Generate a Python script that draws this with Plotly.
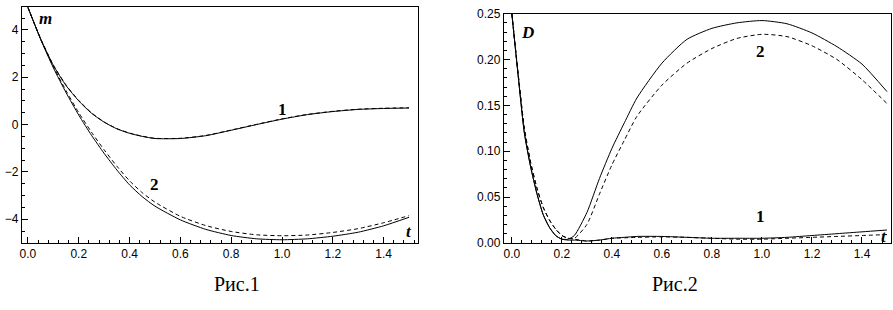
import plotly.graph_objects as go

# ---------------- data: Рис.1 (m vs t) ----------------
t_m = [0, 0.05, 0.1, 0.15, 0.2, 0.25, 0.3, 0.35, 0.4, 0.45, 0.5, 0.6, 0.7,
       0.8, 0.9, 1.0, 1.1, 1.2, 1.3, 1.4, 1.5]
m1_solid = [4.95, 3.62, 2.5, 1.65, 1.0, 0.48, 0.1, -0.18, -0.37, -0.5, -0.59,
            -0.59, -0.47, -0.24, 0.0, 0.23, 0.42, 0.55, 0.64, 0.68, 0.7]
m1_dash = [4.95, 3.63, 2.52, 1.67, 1.02, 0.5, 0.11, -0.17, -0.36, -0.49, -0.58,
           -0.58, -0.46, -0.23, 0.01, 0.24, 0.43, 0.56, 0.65, 0.69, 0.71]
m2_solid = [4.95, 3.6, 2.4, 1.35, 0.4, -0.45, -1.22, -1.92, -2.55, -3.05, -3.45,
            -4.03, -4.43, -4.69, -4.83, -4.87, -4.83, -4.72, -4.55, -4.28, -3.92]
m2_dash = [4.95, 3.61, 2.45, 1.43, 0.5, -0.32, -1.07, -1.76, -2.38, -2.88, -3.28,
           -3.88, -4.27, -4.52, -4.66, -4.7, -4.67, -4.56, -4.4, -4.15, -3.85]

# ---------------- data: Рис.2 (D vs t) ----------------
t_d = [0, 0.025, 0.05, 0.075, 0.1, 0.125, 0.15, 0.175, 0.2, 0.225, 0.25, 0.3,
       0.35, 0.4, 0.45, 0.5, 0.6, 0.7, 0.8, 0.9, 1.0, 1.1, 1.2, 1.3, 1.4, 1.5]
d2_solid = [0.25, 0.183, 0.12, 0.083, 0.054, 0.031, 0.017, 0.008, 0.004, 0.004,
            0.008, 0.033, 0.07, 0.103, 0.131, 0.158, 0.196, 0.222, 0.234, 0.240,
            0.2425, 0.239, 0.229, 0.214, 0.195, 0.165]
d2_dash = [0.25, 0.185, 0.125, 0.088, 0.06, 0.039, 0.025, 0.015, 0.008, 0.005,
           0.005, 0.02, 0.053, 0.085, 0.112, 0.138, 0.172, 0.196, 0.212, 0.223,
           0.2275, 0.225, 0.215, 0.2, 0.178, 0.152]
d1_solid = [0.25, 0.183, 0.12, 0.083, 0.054, 0.031, 0.017, 0.008, 0.004, 0.003,
            0.003, 0.002, 0.003, 0.005, 0.006, 0.007, 0.007, 0.006, 0.005, 0.005,
            0.005, 0.006, 0.008, 0.010, 0.012, 0.014]
d1_dash = [0.25, 0.185, 0.125, 0.088, 0.06, 0.039, 0.025, 0.015, 0.008, 0.005,
           0.004, 0.002, 0.003, 0.005, 0.0055, 0.006, 0.0065, 0.006, 0.005, 0.004,
           0.004, 0.005, 0.006, 0.007, 0.008, 0.009]

x_ticks = [0.0, 0.2, 0.4, 0.6, 0.8, 1.0, 1.2, 1.4]
m_ticks = [-4, -2, 0, 2, 4]
d_ticks = [0.0, 0.05, 0.10, 0.15, 0.20, 0.25]

W, H = 893, 310
fig = go.Figure()

line_solid = dict(color="black", width=1, shape="spline", smoothing=0.6)
line_dash = dict(color="black", width=1, dash="4px,3px", shape="spline", smoothing=0.6)

fig.add_trace(go.Scatter(x=t_m, y=m1_solid, mode="lines", line=line_solid, xaxis="x", yaxis="y"))
fig.add_trace(go.Scatter(x=t_m, y=m1_dash, mode="lines", line=line_dash, xaxis="x", yaxis="y"))
fig.add_trace(go.Scatter(x=t_m, y=m2_solid, mode="lines", line=line_solid, xaxis="x", yaxis="y"))
fig.add_trace(go.Scatter(x=t_m, y=m2_dash, mode="lines", line=line_dash, xaxis="x", yaxis="y"))

fig.add_trace(go.Scatter(x=t_d, y=d1_solid, mode="lines", line=line_solid, xaxis="x2", yaxis="y2"))
fig.add_trace(go.Scatter(x=t_d, y=d1_dash, mode="lines", line=line_dash, xaxis="x2", yaxis="y2"))
fig.add_trace(go.Scatter(x=t_d, y=d2_solid, mode="lines", line=line_solid, xaxis="x2", yaxis="y2"))
fig.add_trace(go.Scatter(x=t_d, y=d2_dash, mode="lines", line=line_dash, xaxis="x2", yaxis="y2"))

tick_font = dict(family="Liberation Sans Narrow, Liberation Sans, Arial", size=12, color="black")

def ax(**kw):
    base = dict(showline=True, linecolor="black", linewidth=1, mirror=True,
                ticks="inside", ticklen=6, tickcolor="black", tickwidth=1,
                showgrid=False, zeroline=False, tickfont=tick_font)
    base.update(kw)
    return base

minor_x = dict(ticks="inside", ticklen=3, tickcolor="black", dtick=0.04, tick0=0, showgrid=False)

fig.update_layout(
    width=W, height=H, margin=dict(l=0, r=0, t=0, b=0),
    paper_bgcolor="white", plot_bgcolor="white", showlegend=False,
    xaxis=ax(domain=[20 / W, 417 / W], range=[-0.0236, 1.5355], anchor="y",
             tickvals=x_ticks, tickformat=".1f", minor=minor_x),
    yaxis=ax(domain=[(H - 247) / H, 1.0], range=[-5.0, 4.97], anchor="x",
             tickvals=m_ticks,
             minor=dict(ticks="inside", ticklen=3, tickcolor="black", dtick=0.5, tick0=0, showgrid=False)),
    xaxis2=ax(domain=[503 / W, 891 / W], range=[-0.0319, 1.516], anchor="y2",
              tickvals=x_ticks, tickformat=".1f", minor=minor_x),
    yaxis2=ax(domain=[(H - 247) / H, (H - 7) / H], range=[0.0, 0.25], anchor="x2",
              tickvals=d_ticks, tickformat=".2f",
              minor=dict(ticks="inside", ticklen=3, tickcolor="black", dtick=0.01, tick0=0, showgrid=False)),
)

lab_it = dict(family="Liberation Serif, Times New Roman", size=17, color="black")
lab_num = dict(family="Liberation Serif, Times New Roman", size=17, color="black")

def note(text, x, y, xr, yr, font):
    fig.add_annotation(text=text, x=x, y=y, xref=xr, yref=yr, showarrow=False, font=font,
                       xanchor="center", yanchor="middle")

note("<b><i>m</i></b>", 0.07, 4.48, "x", "y", lab_it)
note("<b>1</b>", 1.0, 0.65, "x", "y", lab_num)
note("<b>2</b>", 0.5, -2.55, "x", "y", lab_num)
note("<b><i>t</i></b>", 1.5, -4.5, "x", "y", lab_it)

note("<b><i>D</i></b>", 0.064, 0.229, "x2", "y2", lab_it)
note("<b>2</b>", 0.993, 0.209, "x2", "y2", lab_num)
note("<b>1</b>", 0.993, 0.029, "x2", "y2", lab_num)
note("<b><i>t</i></b>", 1.488, 0.0073, "x2", "y2", lab_it)

cap_font = dict(family="Liberation Serif, Times New Roman", size=20, color="black")
note("Рис.1", 236 / W, (H - 290) / H, "paper", "paper", cap_font)
note("Рис.2", 675 / W, (H - 290) / H, "paper", "paper", cap_font)

fig.write_html("out.html", config={"displayModeBar": False},
               post_script="document.body.style.margin='0';document.body.style.overflow='hidden';")
